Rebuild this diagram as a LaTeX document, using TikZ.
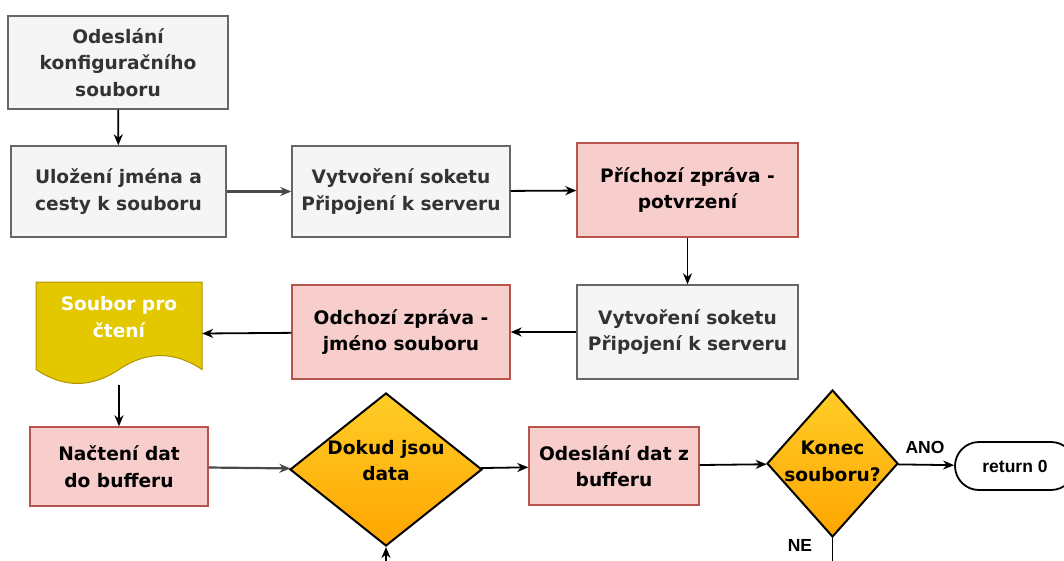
\documentclass[tikz,border=0pt]{standalone}
\usepackage{fontspec}
\setmainfont{DejaVu Sans}
\newfontfamily\labelfont{Liberation Sans}
\usetikzlibrary{shapes.geometric,arrows.meta}

\definecolor{greyfill}{HTML}{F5F5F5}
\definecolor{greyline}{HTML}{666666}
\definecolor{greytext}{HTML}{333333}
\definecolor{pinkfill}{HTML}{F8CECC}
\definecolor{pinkline}{HTML}{B85450}
\definecolor{docfill}{HTML}{E3C800}
\definecolor{docline}{HTML}{B09500}
\definecolor{dtop}{HTML}{FFCD28}
\definecolor{dbot}{HTML}{FFA500}
\definecolor{edgegrey}{HTML}{4A4A4A}

\newcommand\boxfont{\fontsize{18.6}{26.5}\selectfont\bfseries}
\newcommand\smallfont{\labelfont\fontsize{17.5}{20}\selectfont\bfseries}

\tikzset{
  box/.style={rectangle, draw, line width=1.4pt, align=center, inner sep=0pt, font=\boxfont},
  greybox/.style={box, fill=greyfill, draw=greyline, text=greytext},
  pinkbox/.style={box, fill=pinkfill, draw=pinkline, text=black},
  decision/.style={diamond, draw=black, line width=2pt, top color=dtop, bottom color=dbot, inner sep=0pt},
  dtext/.style={align=center, font=\boxfont, text=black, inner sep=0pt},
  terminal/.style={rectangle, rounded corners=24pt, draw=black, line width=1.8pt, fill=white, inner sep=0pt, font=\smallfont},
  tag/.style={font=\smallfont, text=black, inner sep=0pt},
  flow/.style={-{Stealth[length=11pt,width=9pt,inset=3.5pt]}, line width=1.8pt, draw=black},
  greyflow/.style={flow, draw=edgegrey, line width=2.2pt},
  plain/.style={line width=1.8pt, draw=black}
}

\begin{document}
\begin{tikzpicture}[x=1pt,y=-1pt]
\useasboundingbox (0,0) rectangle (1064,561);
\clip (0,0) rectangle (1064,561);
\fill[white] (0,0) rectangle (1064,561);

% first row
\node[greybox, minimum width=220pt, minimum height=93pt] (send) at (118,62.5)
  {Odeslání\\konfiguračního\\souboru};
\node[greybox, minimum width=215pt, minimum height=91pt] (store) at (118.5,191.5)
  {Uložení jména a\\cesty k souboru};
\node[greybox, minimum width=218pt, minimum height=91pt] (sock1) at (401,191.5)
  {Vytvoření soketu\\Připojení k serveru};
\node[pinkbox, minimum width=221pt, minimum height=94pt] (ack) at (687.5,190)
  {Příchozí zpráva -\\potvrzení};

% second row
\node[greybox, minimum width=221pt, minimum height=94pt] (sock2) at (687.5,332)
  {Vytvoření soketu\\Připojení k serveru};
\node[pinkbox, minimum width=218pt, minimum height=94pt] (out) at (401,332)
  {Odchozí zpráva -\\jméno souboru};

% document shape with wavy bottom
\node[minimum width=166pt, minimum height=103pt, inner sep=0pt] (doc) at (119,333.5) {};
\draw[fill=docfill, draw=docline, line width=1pt]
  (36,282) -- (202,282) -- (202,369.5)
  .. controls (174.3,350.9) and (146.7,350.9) .. (119,369.5)
  .. controls (91.3,388.1) and (63.7,388.1) .. (36,369.5) -- cycle;
\node[dtext, text=white] (doctext) at (119,317) {Soubor pro\\čtení};

% third row
\node[pinkbox, minimum width=178pt, minimum height=79pt] (load) at (119,466.5)
  {Načtení dat\\do bufferu};
\node[decision, minimum width=192pt, minimum height=153pt] (while) at (386,469.5) {};
\node[dtext] (whiletext) at (386,460.5) {Dokud jsou\\data};
\node[pinkbox, minimum width=170pt, minimum height=78pt] (sendbuf) at (614,466)
  {Odeslání dat z\\bufferu};
\node[decision, minimum width=131pt, minimum height=147pt] (eof) at (832.5,463.5) {};
\node[dtext] (eoftext) at (832.5,461.5) {Konec\\souboru?};
\node[terminal, minimum width=120pt, minimum height=48pt] (ret) at (1015,466) {return 0};

\node[tag] (yes) at (925,447) {ANO};
\node[tag] (no) at (800,545) {NE};

\coordinate (loopin) at (386,580);
\coordinate (loopout) at (832.5,580);

% connectors
\draw[flow] (send) -- (store);
\draw[greyflow] (store) -- (sock1);
\draw[flow] (sock1) -- (ack);
\draw[flow] (ack) -- (sock2);
\draw[flow] (sock2) -- (out);
\draw[flow] (out) -- (doc.east);
\draw[flow] (doc.south) -- (load);
\draw[greyflow] (load) -- (while);
\draw[flow] (while) -- (sendbuf);
\draw[flow] (sendbuf) -- (eof);
\draw[flow] (eof) -- (ret);
\draw[plain] (eof.south) -- (loopout);
\draw[flow] (loopin) -- (while.south);
\end{tikzpicture}
\end{document}
